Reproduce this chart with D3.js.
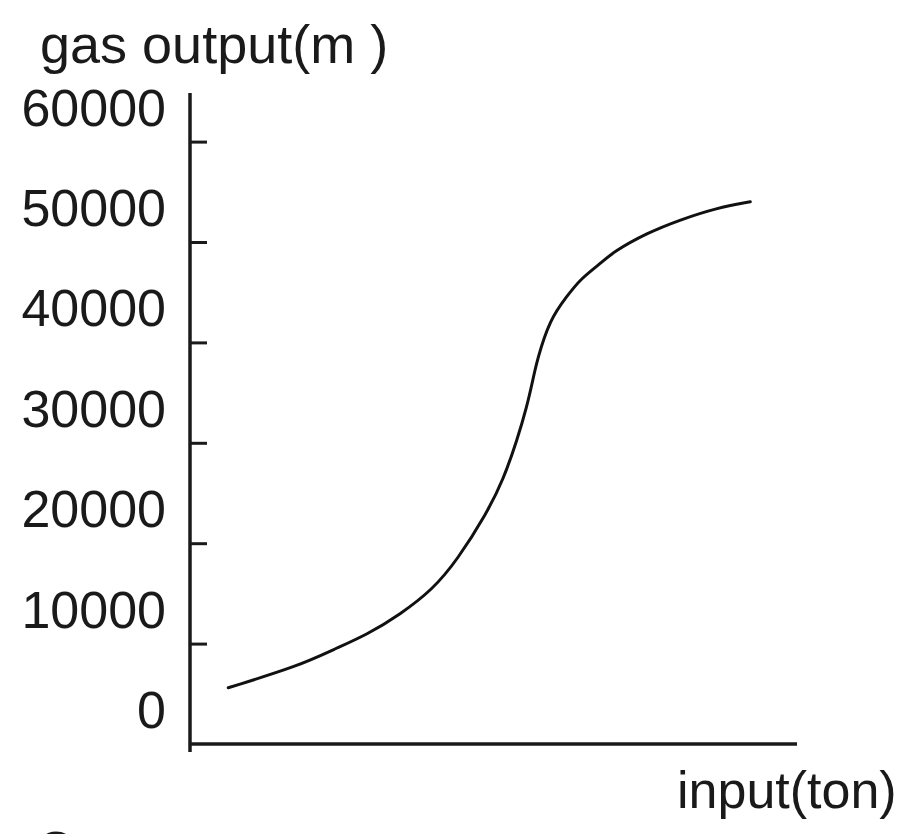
<!DOCTYPE html>
<html>
<head>
<meta charset="utf-8">
<script src="https://cdn.jsdelivr.net/npm/d3@7"></script>
<style>
  html, body { margin: 0; padding: 0; background: #fff; overflow: hidden; }
  svg { display: block; font-family: "Liberation Sans", Arial, sans-serif; }
</style>
</head>
<body>
<div id="chart"></div>
<script>
// values (input has no scale, 0-100 across the axis)
const inputTon = [6.3, 18, 23.6, 29.2, 34.6, 40, 44, 48.9, 51.6, 53.9, 55.5, 56.5, 57.2, 59.3, 62.1, 64.3, 67.5, 69.7, 75.3, 80.7, 86.8, 92.3];
const gasOutput = [5600, 7800, 9400, 10900, 12900, 15400, 18300, 23000, 26300, 30300, 33600, 36300, 38300, 42300, 44600, 46300, 47800, 49000, 50900, 52200, 53400, 54000];
const yTickValues = [0, 10000, 20000, 30000, 40000, 50000, 60000];
const yTitle = "gas output(m )";
const xTitle = "input(ton)";

const width = 899, height = 834;

const svg = d3.select("#chart").append("svg")
  .attr("width", width)
  .attr("height", height);

const x = d3.scaleLinear().domain([0, 100]).range([190, 797]);
const y = d3.scaleLinear().domain([0, 60000]).range([744, 141.6]);

const ink = "#1a1a1a";

// y axis line (runs a bit past both ends)
svg.append("line")
  .attr("x1", x(0)).attr("x2", x(0))
  .attr("y1", 93).attr("y2", 752)
  .attr("stroke", ink).attr("stroke-width", 3.5);

// x axis line
svg.append("line")
  .attr("x1", x(0)).attr("x2", x(100))
  .attr("y1", y(0)).attr("y2", y(0))
  .attr("stroke", ink).attr("stroke-width", 3.5);

// inward ticks
const tickAxis = svg.append("g")
  .attr("transform", `translate(${x(0)},0)`)
  .call(d3.axisRight(y).tickValues(yTickValues.filter(d => d > 0)).tickSize(17).tickFormat(""));
tickAxis.select(".domain").remove();
tickAxis.selectAll(".tick line").attr("stroke", ink).attr("stroke-width", 3);

// tick labels sit above their ticks
svg.selectAll(".ylab")
  .data(yTickValues)
  .enter()
  .append("text")
  .attr("class", "ylab")
  .attr("x", 166)
  .attr("y", d => y(d) - 16)
  .attr("text-anchor", "end")
  .attr("font-size", 52)
  .attr("fill", ink)
  .text(d => d);

svg.append("text")
  .attr("x", 40)
  .attr("y", 63)
  .attr("font-size", 54)
  .attr("fill", ink)
  .attr("xml:space", "preserve")
  .style("white-space", "pre")
  .text(yTitle);

svg.append("text")
  .attr("x", 677)
  .attr("y", 808)
  .attr("font-size", 52)
  .attr("fill", ink)
  .text(xTitle);

// partly cut-off caption letter at the bottom edge
svg.append("text")
  .attr("x", 36)
  .attr("y", 868)
  .attr("font-size", 52)
  .attr("fill", ink)
  .text("C");

const line = d3.line()
  .x((d, i) => x(inputTon[i]))
  .y(d => y(d))
  .curve(d3.curveBasis);

svg.append("path")
  .datum(gasOutput)
  .attr("fill", "none")
  .attr("stroke", "#111")
  .attr("stroke-width", 3)
  .attr("stroke-linecap", "round")
  .attr("d", line);
</script>
</body>
</html>
